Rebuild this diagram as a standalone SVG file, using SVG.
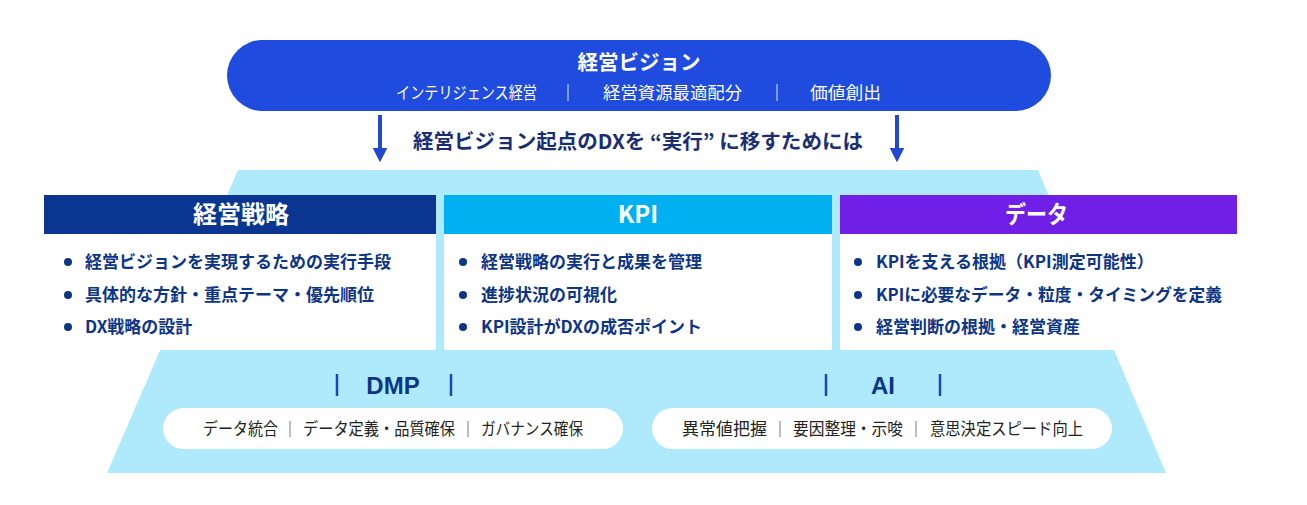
<svg xmlns="http://www.w3.org/2000/svg" width="1307" height="505" viewBox="0 0 1307 505">
<defs>
<style>
.jp{font-family:"Noto Sans CJK JP","Noto Sans",sans-serif;}
.title{font-size:20.5px;font-weight:700;fill:#fff;}
.sub{font-size:16.5px;font-weight:400;fill:#fff;}
.lead{font-size:20px;font-weight:700;fill:#1a2f73;}
.hdr{font-size:24px;font-weight:700;fill:#fff;}
.bul{font-size:17px;font-weight:700;fill:#0d3585;}
.dot{fill:#0d3585;}
.lab{font-size:24px;font-weight:700;fill:#0d3585;font-family:"Liberation Sans",Arial,sans-serif;}
.pill{font-size:16.5px;font-weight:400;fill:#222;}
.sepw{stroke:#9db3f2;stroke-width:1.5;}
.sepg{stroke:#999;stroke-width:1.3;}
.bar{stroke:#1d45b8;stroke-width:2.5;}
.arrow{stroke:#2348d0;stroke-width:4;fill:none;}
</style>
<marker id="ah" viewBox="0 0 10 10" refX="0" refY="5" markerWidth="3.6" markerHeight="3.6" markerUnits="strokeWidth" orient="auto">
<path d="M0,0 L10,5 L0,10 z" fill="#2348d0"/>
</marker>
</defs>
<rect width="1307" height="505" fill="#fff"/>

<g id="base">
<polygon points="238,170 1038,170 1166,473 107,473" fill="#aeeafc"/>
</g>

<g id="vision">
<rect x="227" y="40" width="824" height="71" rx="35.5" fill="#1f4bdf"/>
<text class="jp title" x="639" y="70" text-anchor="middle">経営ビジョン</text>
<text class="jp sub" x="396" y="99" textLength="141" lengthAdjust="spacingAndGlyphs">インテリジェンス経営</text>
<line class="sepw" x1="568" y1="84" x2="568" y2="101"/>
<text class="jp sub" x="603" y="99" textLength="139" lengthAdjust="spacingAndGlyphs">経営資源最適配分</text>
<line class="sepw" x1="777" y1="84" x2="777" y2="101"/>
<text class="jp sub" x="810" y="99" textLength="71" lengthAdjust="spacingAndGlyphs">価値創出</text>
</g>

<g id="connectors">
<line class="arrow" x1="380" y1="115" x2="380" y2="148" marker-end="url(#ah)"/>
<line class="arrow" x1="897" y1="115" x2="897" y2="148" marker-end="url(#ah)"/>
</g>

<g id="lead">
<text class="jp lead" x="413" y="149" textLength="450" lengthAdjust="spacingAndGlyphs">経営ビジョン起点のDXを “実行” に移すためには</text>
</g>

<g id="col-strategy">
<rect x="44" y="195" width="392" height="39" fill="#0a3590"/>
<text class="jp hdr" x="241" y="223" text-anchor="middle">経営戦略</text>
<rect x="44" y="234" width="392" height="116" fill="#fff"/>
<circle class="dot" cx="68" cy="262" r="4"/>
<text class="jp bul" x="85" y="268">経営ビジョンを実現するための実行手段</text>
<circle class="dot" cx="68" cy="295" r="4"/>
<text class="jp bul" x="85" y="301">具体的な方針・重点テーマ・優先順位</text>
<circle class="dot" cx="68" cy="327" r="4"/>
<text class="jp bul" x="85" y="333">DX戦略の設計</text>
</g>

<g id="col-kpi">
<rect x="444" y="195" width="388" height="39" fill="#00b0f0"/>
<text class="jp hdr" x="638" y="223" text-anchor="middle">KPI</text>
<rect x="444" y="234" width="388" height="116" fill="#fff"/>
<circle class="dot" cx="463" cy="262" r="4"/>
<text class="jp bul" x="481" y="268">経営戦略の実行と成果を管理</text>
<circle class="dot" cx="463" cy="295" r="4"/>
<text class="jp bul" x="481" y="301">進捗状況の可視化</text>
<circle class="dot" cx="463" cy="327" r="4"/>
<text class="jp bul" x="481" y="333">KPI設計がDXの成否ポイント</text>
</g>

<g id="col-data">
<rect x="840" y="195" width="397" height="39" fill="#7020e6"/>
<text class="jp hdr" x="1005" y="223" textLength="63" lengthAdjust="spacingAndGlyphs">データ</text>
<rect x="840" y="234" width="397" height="116" fill="#fff"/>
<circle class="dot" cx="858" cy="262" r="4"/>
<text class="jp bul" x="876" y="268">KPIを支える根拠（KPI測定可能性）</text>
<circle class="dot" cx="858" cy="295" r="4"/>
<text class="jp bul" x="876" y="301" textLength="346" lengthAdjust="spacingAndGlyphs">KPIに必要なデータ・粒度・タイミングを定義</text>
<circle class="dot" cx="858" cy="327" r="4"/>
<text class="jp bul" x="876" y="333">経営判断の根拠・経営資産</text>
</g>

<g id="dmp">
<line class="bar" x1="337" y1="374" x2="337" y2="396"/>
<text class="lab" x="393" y="394" text-anchor="middle">DMP</text>
<line class="bar" x1="451" y1="374" x2="451" y2="396"/>
<rect x="163" y="408" width="460" height="41" rx="20.5" fill="#fff"/>
<text class="jp pill" x="203" y="435" textLength="75" lengthAdjust="spacingAndGlyphs">データ統合</text>
<line class="sepg" x1="290" y1="421" x2="290" y2="437"/>
<text class="jp pill" x="303" y="435" textLength="152" lengthAdjust="spacingAndGlyphs">データ定義・品質確保</text>
<line class="sepg" x1="468" y1="421" x2="468" y2="437"/>
<text class="jp pill" x="481" y="435" textLength="102" lengthAdjust="spacingAndGlyphs">ガバナンス確保</text>
</g>

<g id="ai">
<line class="bar" x1="826" y1="374" x2="826" y2="396"/>
<text class="lab" x="883" y="394" text-anchor="middle">AI</text>
<line class="bar" x1="940" y1="374" x2="940" y2="396"/>
<rect x="652" y="408" width="460" height="41" rx="20.5" fill="#fff"/>
<text class="jp pill" x="682" y="435" textLength="85" lengthAdjust="spacingAndGlyphs">異常値把握</text>
<line class="sepg" x1="780" y1="421" x2="780" y2="437"/>
<text class="jp pill" x="793" y="435" textLength="110" lengthAdjust="spacingAndGlyphs">要因整理・示唆</text>
<line class="sepg" x1="916" y1="421" x2="916" y2="437"/>
<text class="jp pill" x="930" y="435" textLength="153" lengthAdjust="spacingAndGlyphs">意思決定スピード向上</text>
</g>
</svg>
